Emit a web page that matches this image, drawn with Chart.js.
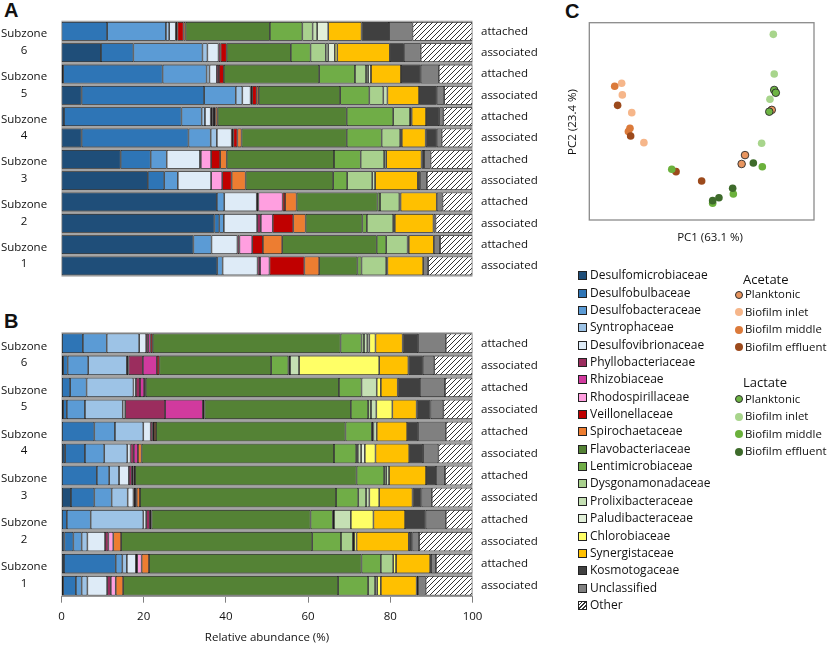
<!DOCTYPE html>
<html><head><meta charset="utf-8">
<script src="https://cdn.jsdelivr.net/npm/chart.js@4.4.1/dist/chart.umd.min.js"></script>
<style>
html,body{margin:0;padding:0;background:#fff;}
body{width:830px;height:647px;position:relative;overflow:hidden;font-family:'Open Sans',sans-serif;color:#111;}
.box{position:absolute;}
.pl{position:absolute;font-family:'Liberation Sans',Arial,sans-serif;font-weight:bold;font-size:20px;line-height:20px;color:#111;}
.txt{position:absolute;font-size:11.5px;line-height:14px;white-space:nowrap;}
.lg{position:absolute;font-size:12px;line-height:14px;white-space:nowrap;}
.sq{position:absolute;width:7px;height:7px;border:1px solid #222;}
.dot{position:absolute;width:8px;height:8px;border-radius:50%;box-sizing:border-box;}
</style></head><body>
<div class="pl" style="left:4px;top:0px">A</div>
<div class="pl" style="left:4px;top:311px">B</div>
<div class="pl" style="left:565px;top:1px">C</div>
<div class="box" style="left:0;top:0;width:545px;height:292px"><canvas id="cA"></canvas></div>
<div class="box" style="left:0;top:300px;width:545px;height:347px"><canvas id="cB"></canvas></div>
<div class="box" style="left:560px;top:0;width:270px;height:250px"><canvas id="cC"></canvas></div>
<div class="txt" style="left:650px;top:230px;width:120px;text-align:center">PC1 (63.1 %)</div>
<div class="txt" style="left:512px;top:115px;width:120px;text-align:center;transform:rotate(-90deg)">PC2 (23.4 %)</div>
<div id="legend"></div>
<script>
// ---------- data ----------
const families = ['Desulfomicrobiaceae','Desulfobulbaceae','Desulfobacteraceae','Syntrophaceae','Desulfovibrionaceae','Phyllobacteriaceae','Rhizobiaceae','Rhodospirillaceae','Veillonellaceae','Spirochaetaceae','Flavobacteriaceae','Lentimicrobiaceae','Dysgonamonadaceae','Prolixibacteraceae','Paludibacteraceae','Chlorobiaceae','Synergistaceae','Kosmotogaceae','Unclassified','Other'];
const familyColors = ['#1F4E79','#2E75B6','#5B9BD5','#9DC3E6','#DEEBF7','#9B2D5E','#D13A9E','#FF9FE0','#C00000','#ED7D31','#548235','#70AD47','#A9D18E','#C5E0B4','#E2F0D9','#FFFF66','#FFC000','#404040','#808080','hatch'];
const sampleLabels = ['attached','associated','attached','associated','attached','associated','attached','associated','attached','associated','attached','associated'];
const subzones = ['6','5','4','3','2','1'];

// Panel A (values in %, order = families)
const A_sz6_attached   = [0, 11.1, 14.3, 0.8, 1.6, 0.4, 0, 0, 1.5, 0.5, 20.5, 7.9, 2.5, 1.1, 2.7, 0, 8.1, 6.7, 5.7, 14.6];
const A_sz6_associated = [9.6, 7.9, 16.8, 1.2, 2.7, 0.5, 0, 0, 1.5, 0, 15.6, 4.8, 3.7, 0.6, 1.6, 0.6, 12.8, 3.4, 4.1, 12.6];
const A_sz5_attached   = [0.4, 24.2, 10.7, 0.7, 1.8, 0.5, 0, 0, 1.2, 0, 23.2, 8.7, 2.7, 0.5, 0.7, 0, 7.3, 4.8, 4.4, 8.2];
const A_sz5_associated = [4.9, 29.8, 7.7, 1.6, 2.0, 0.4, 0, 0, 1.1, 0.5, 19.8, 7.1, 3.4, 1.0, 0, 0, 7.7, 4.3, 1.8, 6.9];
const A_sz4_attached   = [0.6, 28.6, 4.9, 0.8, 1.4, 0.4, 0, 0.4, 0.4, 0.5, 31.4, 11.3, 4.1, 0.4, 0, 0, 3.5, 3.2, 1.0, 7.1];
const A_sz4_associated = [4.9, 26.0, 5.4, 1.5, 3.6, 0.4, 0, 0, 1.0, 1.0, 25.6, 8.5, 4.5, 0.4, 0, 0, 5.8, 2.7, 1.2, 7.5];
const A_sz3_attached   = [14.4, 7.3, 3.9, 0, 8.1, 0.2, 0, 2.5, 2.2, 1.6, 26.1, 6.5, 5.7, 0.5, 0, 0, 8.6, 0.6, 1.6, 10.2];
const A_sz3_associated = [21.0, 4.0, 3.3, 0, 8.1, 0, 0, 2.7, 2.3, 3.4, 21.3, 3.4, 6.1, 0.7, 0, 0, 10.4, 0.6, 1.6, 11.1];
const A_sz2_attached   = [37.8, 0, 1.8, 0, 7.9, 0.4, 0, 5.9, 0.6, 2.8, 19.7, 0.6, 4.7, 0.3, 0, 0, 8.8, 0, 1.4, 7.3];
const A_sz2_associated = [37.2, 1.2, 1.1, 0, 8.1, 0.9, 0, 2.9, 5.0, 3.0, 13.8, 1.1, 6.4, 0.4, 0, 0, 9.4, 0, 0.5, 9.0];
const A_sz1_attached   = [32.1, 0, 4.4, 0, 6.3, 0.5, 0, 3.1, 2.6, 4.7, 23.0, 2.3, 5.2, 0.3, 0, 0, 6.1, 0, 1.5, 7.9];
const A_sz1_associated = [37.9, 0, 1.3, 0, 8.5, 0.6, 0, 2.3, 8.5, 3.6, 9.3, 1.0, 6.0, 0.3, 0, 0, 8.7, 0, 1.2, 10.8];

// Panel B
const B_sz6_attached   = [0, 5.2, 5.8, 7.9, 1.7, 0.5, 0.6, 0, 0.5, 0, 45.7, 5.1, 0.6, 0.8, 0.5, 1.5, 6.6, 3.8, 6.7, 6.5];
const B_sz6_associated = [0.4, 1.1, 5.0, 9.4, 0.4, 3.5, 3.4, 0, 0.6, 0, 27.2, 4.2, 0.4, 2.2, 0, 19.5, 7.1, 3.5, 2.8, 9.3];
const B_sz5_attached   = [0, 2.1, 4.0, 11.4, 0.6, 1.0, 1.0, 0, 0.4, 0, 47.0, 5.5, 0, 3.7, 0, 1.0, 4.1, 5.4, 6.1, 6.7];
const B_sz5_associated = [0.4, 0.9, 4.4, 9.2, 0.6, 9.7, 9.2, 0, 0.4, 0, 35.6, 4.2, 0.7, 1.3, 0, 3.9, 5.9, 3.4, 3.1, 7.1];
const B_sz4_attached   = [0, 8.0, 5.0, 6.9, 1.8, 0.5, 0.3, 0, 0, 0.5, 46.1, 6.4, 0.4, 0.8, 0, 0, 7.4, 2.7, 6.7, 6.5];
const B_sz4_associated = [0.9, 4.8, 4.7, 5.6, 0.8, 0.8, 1.0, 0, 0, 0.9, 46.8, 5.4, 0.4, 0.8, 0.9, 2.6, 8.2, 3.4, 3.7, 8.3];
const B_sz3_attached   = [0, 8.6, 3.0, 2.4, 2.4, 0.7, 0.4, 0, 0, 0.4, 53.9, 6.7, 0.5, 0.7, 0, 0, 9.0, 2.4, 2.2, 6.7];
const B_sz3_associated = [2.3, 5.7, 4.2, 3.9, 1.4, 0.4, 0.4, 0, 0, 0.8, 47.7, 5.4, 1.9, 0.8, 0, 2.4, 8.1, 2.2, 2.5, 9.9];
const B_sz2_attached   = [0, 1.3, 5.8, 12.8, 0.7, 0.9, 0.4, 0, 0, 0, 38.7, 5.4, 0.3, 4.1, 0, 5.5, 7.7, 5.0, 4.9, 6.5];
const B_sz2_associated = [0.7, 2.2, 2.0, 1.4, 4.3, 0.8, 0, 1.2, 0, 1.9, 46.5, 7.0, 2.9, 0, 0.3, 0.6, 12.7, 0.9, 1.6, 13.0];
const B_sz1_attached   = [0.6, 12.6, 1.6, 1.1, 2.2, 0.3, 0, 1.1, 0, 1.8, 51.7, 4.7, 3.0, 0, 0, 0.7, 8.3, 0.2, 1.2, 8.9];
const B_sz1_associated = [0.4, 3.1, 1.4, 1.4, 4.8, 0.9, 0, 1.2, 0, 1.8, 52.3, 7.3, 1.7, 0, 0.5, 0.9, 8.7, 0.4, 1.8, 11.4];

const xTicks = [0, 20, 40, 60, 80, 100];

// Panel C (PCoA, arbitrary units)
const scatterGroups = ['Planktonic','Biofilm inlet','Biofilm middle','Biofilm effluent'];
const acetatePlanktonicPC1 = [81.2, 69.3, 67.8];       const acetatePlanktonicPC2 = [55.8, 32.9, 28.4];
const acetateInletPC1 = [24.3, 18.9, 14.4, 14.7];      const acetateInletPC2 = [39.2, 54.4, 69.3, 63.4];
const acetateMiddlePC1 = [18.1, 17.4, 11.3];           const acetateMiddlePC2 = [46.5, 44.8, 67.8];
const acetateEffluentPC1 = [50.0, 38.6, 18.4, 12.6];   const acetateEffluentPC2 = [19.8, 24.5, 42.6, 58.1];
const lactatePlanktonicPC1 = [82.3, 83.0, 80.1];       const lactatePlanktonicPC2 = [65.9, 64.5, 54.9];
const lactateInletPC1 = [81.9, 82.3, 80.4, 76.7];      const lactateInletPC2 = [94.1, 74.0, 61.2, 38.9];
const lactateMiddlePC1 = [77.0, 64.1, 54.9, 36.7];     const lactateMiddlePC2 = [27.0, 13.2, 8.5, 25.7];
const lactateEffluentPC1 = [73.0, 63.8, 57.7, 54.9];   const lactateEffluentPC2 = [28.9, 16.1, 11.3, 9.8];
const acetateColors = ['#E8955F','#F6B68A','#DB7A3A','#9C4A1C'];
const lactateColors = ['#6DB444','#A8D58C','#6BB13C','#3E6B2B'];

// ---------- rendering ----------
Chart.defaults.font.family = "'Open Sans', sans-serif";
Chart.defaults.color = '#111';

function makeHatch(){
  const c = document.createElement('canvas'); c.width = 5; c.height = 5;
  const x = c.getContext('2d');
  x.fillStyle = '#fff'; x.fillRect(0,0,5,5);
  x.strokeStyle = '#333'; x.lineWidth = 1;
  x.beginPath();
  x.moveTo(0,5); x.lineTo(5,0);
  x.moveTo(-1,1); x.lineTo(1,-1);
  x.moveTo(4,6); x.lineTo(6,4);
  x.stroke();
  return x.createPattern(c,'repeat');
}
const hatch = makeHatch();

function buildDatasets(rows){
  return families.map((f,i)=>({
    label: f,
    data: rows.map(r=>r[i]),
    backgroundColor: familyColors[i]==='hatch' ? hatch : familyColors[i],
    borderColor: '#1c1c1c',
    borderWidth: 0.8,
    borderSkipped: false,
    barPercentage: 0.885,
    categoryPercentage: 1
  }));
}

const grayBg = {id:'grayBg', beforeDatasetsDraw(c){
  const a=c.chartArea, ctx=c.ctx; ctx.save(); ctx.fillStyle='#a4a4a4';
  ctx.fillRect(a.left,a.top,a.right-a.left,a.bottom-a.top); ctx.restore();
}};
const subzoneLabels = {id:'subzoneLabels', afterDraw(c){
  const y=c.scales.y, ctx=c.ctx; ctx.save();
  ctx.font="11.5px 'Open Sans'"; ctx.fillStyle='#111'; ctx.textAlign='center'; ctx.textBaseline='middle';
  subzones.forEach((s,k)=>{
    const yc=(y.getPixelForValue(2*k)+y.getPixelForValue(2*k+1))/2;
    ctx.fillText('Subzone',24,yc-8); ctx.fillText(s,24,yc+8.7);
  });
  ctx.restore();
}};

function barChart(id, rows, showX, padTop, padBottom){
  new Chart(document.getElementById(id), {
    type:'bar',
    data:{labels:sampleLabels, datasets:buildDatasets(rows)},
    options:{
      indexAxis:'y', responsive:true, maintainAspectRatio:false, animation:false,
      layout:{padding:{left:61.5, right:0, top:padTop, bottom:padBottom}},
      plugins:{legend:{display:false}, tooltip:{enabled:false}},
      scales:{
        x:{stacked:true, min:0, max:100, display:showX,
           afterBuildTicks:s=>{s.ticks = xTicks.map(v=>({value:v}));},
           grid:{drawOnChartArea:false, drawTicks:true, tickLength:6, color:'#7f7f7f'},
           border:{display:true, color:'#7f7f7f'},
           ticks:{padding:7, font:{size:11.5}, color:'#111'},
           title:{display:true, text:'Relative abundance (%)', font:{size:11.5}, padding:{top:4,bottom:2}, color:'#111'},
           afterFit:s=>{s.height = showX ? 50.3 : 0;}},
        y:{stacked:true, position:'right',
           grid:{display:false, drawTicks:false}, border:{display:false},
           ticks:{padding:8.5, font:{size:11.5}, color:'#111'},
           afterFit:s=>{s.width=72.5;}}
      }
    },
    plugins:[grayBg, subzoneLabels]
  });
}
barChart('cA', [A_sz6_attached,A_sz6_associated,A_sz5_attached,A_sz5_associated,A_sz4_attached,A_sz4_associated,A_sz3_attached,A_sz3_associated,A_sz2_attached,A_sz2_associated,A_sz1_attached,A_sz1_associated], false, 20.7, 6.3);
barChart('cB', [B_sz6_attached,B_sz6_associated,B_sz5_attached,B_sz5_associated,B_sz4_attached,B_sz4_associated,B_sz3_attached,B_sz3_associated,B_sz2_attached,B_sz2_associated,B_sz1_attached,B_sz1_associated], true, 32.3, 0);

function pts(xs, ys){ return xs.map((v,i)=>({x:v, y:ys[i]})); }
function sds(xs, ys, color, outlined){
  return {data:pts(xs,ys), backgroundColor:color, borderColor: outlined?'#2a2a2a':color,
          borderWidth: outlined?0.9:0, pointRadius:3.8};
}
const boxPlugin = {id:'box', afterDraw(c){
  const a=c.chartArea, ctx=c.ctx; ctx.save(); ctx.strokeStyle='#8a8a8a'; ctx.lineWidth=1.3;
  ctx.strokeRect(a.left,a.top,a.right-a.left,a.bottom-a.top); ctx.restore();
}};
new Chart(document.getElementById('cC'), {
  type:'scatter',
  data:{datasets:[
    sds(lactatePlanktonicPC1, lactatePlanktonicPC2, lactateColors[0], true),
    sds(acetatePlanktonicPC1, acetatePlanktonicPC2, acetateColors[0], true),
    sds(lactateEffluentPC1, lactateEffluentPC2, lactateColors[3], false),
    sds(lactateMiddlePC1, lactateMiddlePC2, lactateColors[2], false),
    sds(lactateInletPC1, lactateInletPC2, lactateColors[1], false),
    sds(acetateEffluentPC1, acetateEffluentPC2, acetateColors[3], false),
    sds(acetateMiddlePC1, acetateMiddlePC2, acetateColors[2], false),
    sds(acetateInletPC1, acetateInletPC2, acetateColors[1], false)
  ]},
  options:{responsive:true, maintainAspectRatio:false, animation:false,
    layout:{padding:{left:29.3, top:22.7, right:16, bottom:30}},
    plugins:{legend:{display:false}, tooltip:{enabled:false}},
    scales:{x:{display:false,min:0,max:100}, y:{display:false,min:0,max:100}}
  },
  plugins:[boxPlugin]
});

// ---------- legends ----------
const lg = document.getElementById('legend');
let html = '';
families.forEach((f,i)=>{
  const yc = 275.7 + i*17.35;
  const bg = familyColors[i]==='hatch'
    ? 'background:repeating-linear-gradient(135deg,#fff 0 1.6px,#333 1.6px 2.6px)'
    : 'background:'+familyColors[i];
  html += `<div class="sq" style="left:578px;top:${(yc-4.5).toFixed(1)}px;${bg}"></div>`;
  html += `<div class="lg" style="left:590px;top:${(yc-7.5).toFixed(1)}px">${f}</div>`;
});
function sub(title, ty, colors, y0){
  html += `<div class="lg" style="left:743px;top:${ty-8}px;font-size:13px;line-height:16px">${title}</div>`;
  scatterGroups.forEach((g,i)=>{
    const yc = y0 + i*17.5;
    const bd = i===0 ? 'border:1px solid #2a2a2a;' : '';
    html += `<div class="dot" style="left:734.5px;top:${(yc-4).toFixed(1)}px;background:${colors[i]};${bd}"></div>`;
    html += `<div class="lg" style="left:745px;top:${(yc-7.5).toFixed(1)}px;font-size:11.4px">${g}</div>`;
  });
}
sub('Acetate', 279, acetateColors, 294.7);
sub('Lactate', 382, lactateColors, 399.2);
lg.innerHTML = html;
</script>
</body></html>
